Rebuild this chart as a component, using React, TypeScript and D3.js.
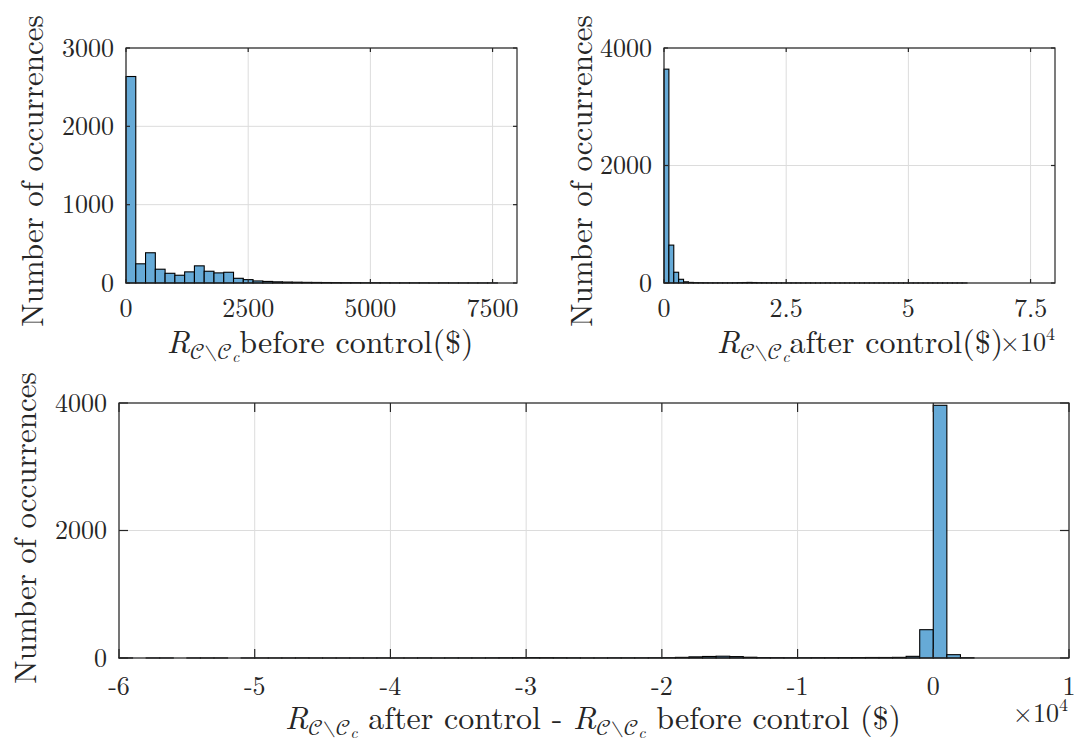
import React from 'react';
import * as d3 from 'd3';

// ---------- data ----------
// Panel 1: R before control ($), bins of 200 starting at 0
const beforeBinStart = 0;
const beforeBinWidth = 200;
const beforeCounts = [2636, 245, 386, 176, 124, 99, 142, 219, 150, 129, 137, 60, 43, 26, 20, 15, 12, 10, 8, 7, 6, 5, 4, 4, 3, 3, 3, 2, 2, 2, 2, 1, 2, 1, 1, 1, 1, 1];
const beforeXTicks = [0, 2500, 5000, 7500];
const beforeXTickLabels = ['0', '2500', '5000', '7500'];
const beforeYTicks = [0, 1000, 2000, 3000];

// Panel 2: R after control ($), bins of 1000 starting at 0
const afterBinStart = 0;
const afterBinWidth = 1000;
const afterCounts = [3640, 645, 183, 63, 20, 10, 6, 5, 4, 3, 3, 3, 3, 3, 4, 6, 8, 10, 8, 5, 4, 3, 3, 2, 2, 2, 2, 2, 1, 2, 1, 1, 1, 2, 1, 1, 1, 1, 1, 1, 1, 1, 1, 1, 1, 1, 1, 1, 1, 1, 1, 1, 1, 1, 1, 1, 1, 1, 1, 1, 1, 1];
const afterXTicks = [0, 25000, 50000, 75000];
const afterXTickLabels = ['0', '2.5', '5', '7.5'];
const afterYTicks = [0, 2000, 4000];

// Panel 3: difference after - before ($), bins of 1000 starting at -60000
const diffBinStart = -60000;
const diffBinWidth = 1000;
const diffCounts = [
  1, 0, 1, 1, 0, 1, 1, 1, 0, 1, 1, 1, 1, 2, 1, 1, 1, 1, 1, 2, 1, 1, 2, 1, 2, 2, 2, 3,
  4, 5, 6, 5, 4, 3,
  2, 2, 3, 3, 3, 4, 5,
  10, 18, 24, 28, 22, 12,
  6, 5, 4, 4, 5, 5, 6, 7, 8, 8,
  10, 26, 444, 3964, 52, 4,
];
const diffXTicks = [-60000, -50000, -40000, -30000, -20000, -10000, 0, 10000];
const diffXTickLabels = ['-6', '-5', '-4', '-3', '-2', '-1', '0', '1'];
const diffYTicks = [0, 2000, 4000];

// ---------- styling ----------
const FONT = '"Latin Modern Roman", "Liberation Serif", serif';
const MATHFONT = '"Latin Modern Math", "STIX Two Math", "Latin Modern Roman", serif';
const AXIS = '#262626';
const GRID = '#dcdcdc';
const FILL = 'rgb(102,170,215)';
const TICK_FS = 26;

type Panel = {
  left: number; top: number; width: number; height: number;
  xDomain: [number, number]; yDomain: [number, number];
  binStart: number; binWidth: number; counts: number[];
  xTicks: number[]; xTickLabels: string[]; yTicks: number[];
  tickLen: number; xTickDy: number;
};

// returns tspans for R_{C\C_c} followed by `after` text on the main baseline
function rWith(size: number, after: string, key: string) {
  const s1 = size * 0.7;
  const s2 = size * 0.5;
  const d1 = size * 0.2;
  const d2 = size * 0.07;
  return [
    <tspan key={key + 'r'} fontStyle="italic" style={{ fontFamily: FONT }}>R</tspan>,
    <tspan key={key + 's1'} fontSize={s1} dy={d1} style={{ fontFamily: MATHFONT }}>𝒞∖𝒞</tspan>,
    <tspan key={key + 's2'} fontSize={s2} dy={d2} fontStyle="italic" style={{ fontFamily: FONT }}>c</tspan>,
    <tspan key={key + 't'} dy={-(d1 + d2)} style={{ fontFamily: FONT }}>{after}</tspan>,
  ];
}

function Hist({ p }: { p: Panel }) {
  const x = d3.scaleLinear().domain(p.xDomain).range([p.left, p.left + p.width]);
  const y = d3.scaleLinear().domain(p.yDomain).range([p.top + p.height, p.top]);
  const bottom = p.top + p.height;
  const right = p.left + p.width;
  return (
    <g>
      {p.xTicks.map((t, i) => (
        <line key={'gx' + i} x1={x(t)} x2={x(t)} y1={p.top} y2={bottom} stroke={GRID} strokeWidth={1} />
      ))}
      {p.yTicks.map((t, i) => (
        <line key={'gy' + i} x1={p.left} x2={right} y1={y(t)} y2={y(t)} stroke={GRID} strokeWidth={1} />
      ))}
      {p.counts.map((c, i) => {
        const x0 = x(p.binStart + i * p.binWidth);
        const x1 = x(p.binStart + (i + 1) * p.binWidth);
        return (
          <rect key={'b' + i} x={x0} y={y(c)} width={x1 - x0} height={bottom - y(c)}
            fill={FILL} stroke="#000" strokeWidth={1.1} />
        );
      })}
      <rect x={p.left} y={p.top} width={p.width} height={p.height} fill="none" stroke={AXIS} strokeWidth={1.2} />
      {p.xTicks.map((t, i) => (
        <g key={'tx' + i}>
          <line x1={x(t)} x2={x(t)} y1={bottom} y2={bottom - p.tickLen} stroke={AXIS} strokeWidth={1.2} />
          <line x1={x(t)} x2={x(t)} y1={p.top} y2={p.top + p.tickLen} stroke={AXIS} strokeWidth={1.2} />
          <text x={x(t)} y={bottom + p.xTickDy} textAnchor="middle" fontSize={TICK_FS} fill={AXIS}
            style={{ fontFamily: FONT }}>{p.xTickLabels[i]}</text>
        </g>
      ))}
      {p.yTicks.map((t, i) => (
        <g key={'ty' + i}>
          <line x1={p.left} x2={p.left + p.tickLen} y1={y(t)} y2={y(t)} stroke={AXIS} strokeWidth={1.2} />
          <line x1={right} x2={right - p.tickLen} y1={y(t)} y2={y(t)} stroke={AXIS} strokeWidth={1.2} />
          <text x={p.left - 12} y={y(t)} dy="0.33em" textAnchor="end" fontSize={TICK_FS} fill={AXIS}
            style={{ fontFamily: FONT }}>{t}</text>
        </g>
      ))}
    </g>
  );
}

export default function App() {
  const p1: Panel = {
    left: 126, top: 48, width: 391, height: 235,
    xDomain: [0, 8000], yDomain: [0, 3000],
    binStart: beforeBinStart, binWidth: beforeBinWidth, counts: beforeCounts,
    xTicks: beforeXTicks, xTickLabels: beforeXTickLabels, yTicks: beforeYTicks,
    tickLen: 4, xTickDy: 34,
  };
  const p2: Panel = {
    left: 664, top: 48, width: 391, height: 235,
    xDomain: [0, 80000], yDomain: [0, 4000],
    binStart: afterBinStart, binWidth: afterBinWidth, counts: afterCounts,
    xTicks: afterXTicks, xTickLabels: afterXTickLabels, yTicks: afterYTicks,
    tickLen: 4, xTickDy: 34,
  };
  const p3: Panel = {
    left: 119, top: 403, width: 950, height: 255,
    xDomain: [-60000, 10000], yDomain: [0, 4000],
    binStart: diffBinStart, binWidth: diffBinWidth, counts: diffCounts,
    xTicks: diffXTicks, xTickLabels: diffXTickLabels, yTicks: diffYTicks,
    tickLen: 9, xTickDy: 37,
  };
  const YL = 31;
  const XL = 32;
  const ts = { fontFamily: FONT };
  return (
    <svg width={1075} height={747} style={{ position: 'absolute', left: 0, top: 0, background: '#fff' }}>
      <rect x={0} y={0} width={1075} height={747} fill="#fff" />
      <Hist p={p1} />
      <Hist p={p2} />
      <Hist p={p3} />
      {/* y labels */}
      <text transform="translate(43,171) rotate(-90)" textAnchor="middle" fontSize={YL} fill={AXIS} style={ts}>Number of occurrences</text>
      <text transform="translate(592,171) rotate(-90)" textAnchor="middle" fontSize={YL} fill={AXIS} style={ts}>Number of occurrences</text>
      <text transform="translate(36,528) rotate(-90)" textAnchor="middle" fontSize={YL} fill={AXIS} style={ts}>Number of occurrences</text>
      {/* x labels */}
      <text x={320} y={353} textAnchor="middle" fontSize={XL} fill={AXIS} style={ts}>
        {rWith(XL, 'before control($)', 'a')}
      </text>
      <text x={860} y={353} textAnchor="middle" fontSize={XL} fill={AXIS} style={ts}>
        {rWith(XL, 'after control($)', 'b')}
      </text>
      <text x={1055} y={351} textAnchor="end" fontSize={TICK_FS} fill={AXIS} style={ts}>
        ×10<tspan fontSize={18} dy={-11}>4</tspan>
      </text>
      <text x={593} y={729} textAnchor="middle" fontSize={XL} fill={AXIS} style={ts}>
        {rWith(XL, ' after control - ', 'c')}
        {rWith(XL, ' before control ($)', 'd')}
      </text>
      <text x={1068} y={722} textAnchor="end" fontSize={TICK_FS} fill={AXIS} style={ts}>
        ×10<tspan fontSize={18} dy={-11}>4</tspan>
      </text>
    </svg>
  );
}
